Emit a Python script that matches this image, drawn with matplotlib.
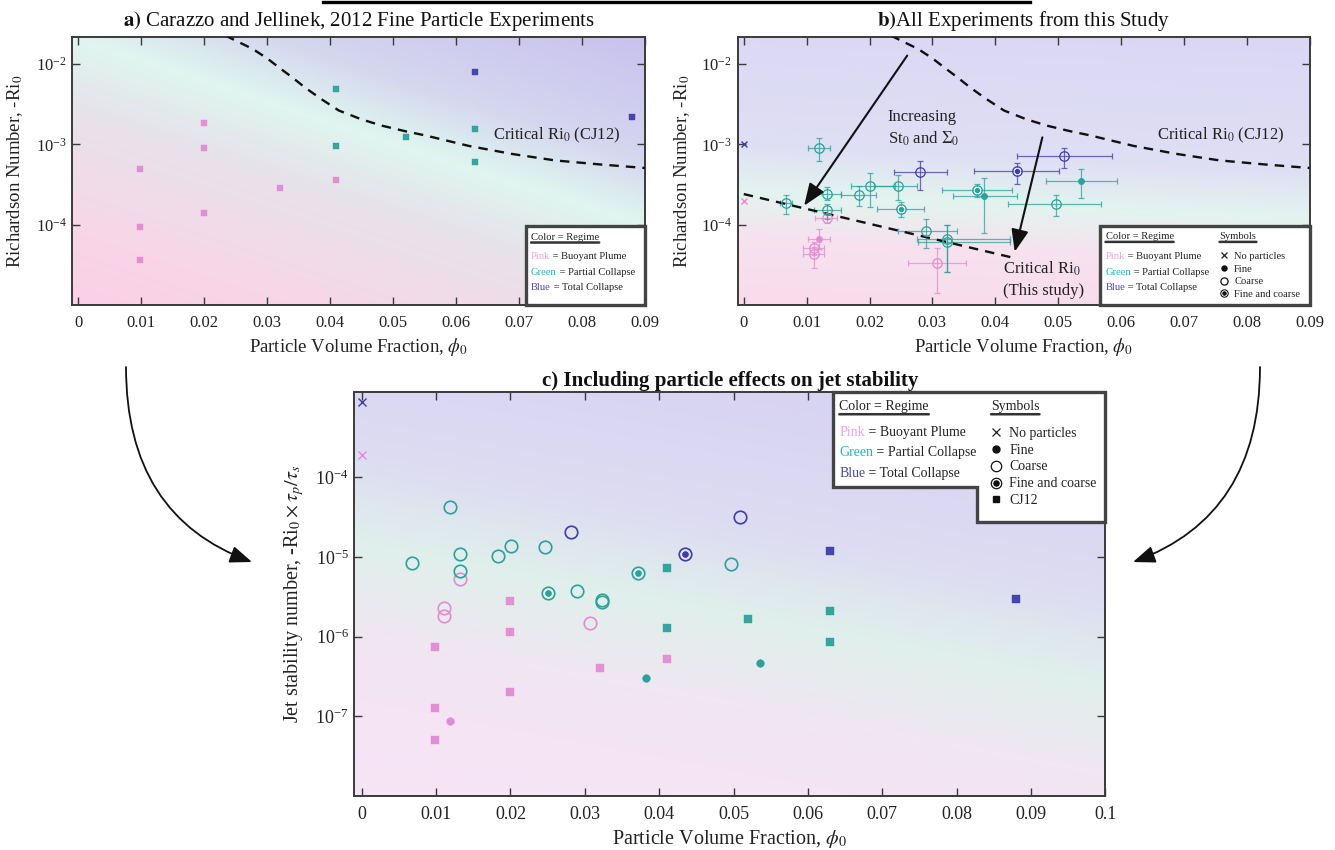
import numpy as np
import matplotlib
matplotlib.use("Agg")
import matplotlib.pyplot as plt
from matplotlib.colors import LinearSegmentedColormap
from matplotlib.patches import Polygon, FancyArrowPatch
from matplotlib.lines import Line2D
from matplotlib.legend_handler import HandlerTuple
from matplotlib.ticker import NullLocator

plt.rcParams["font.family"] = ["Liberation Serif", "DejaVu Serif"]
plt.rcParams["mathtext.fontset"] = "stix"
plt.rcParams["axes.unicode_minus"] = False

# ---------------- Carazzo & Jellinek (2012) fine-particle runs ----------------
cj_phi = [0.0098, 0.0098, 0.0098, 0.020, 0.020, 0.020, 0.032, 0.041,
          0.041, 0.041, 0.052, 0.063, 0.063,
          0.063, 0.088]
cj_ri = [4.9e-4, 9.3e-5, 3.6e-5, 1.86e-3, 8.9e-4, 1.41e-4, 2.83e-4, 3.6e-4,
         4.9e-3, 9.4e-4, 1.22e-3, 1.55e-3, 6.0e-4,
         7.9e-3, 2.2e-3]
cj_jet = [7.35e-7, 1.29e-7, 5.1e-8, 2.8e-6, 1.16e-6, 2.04e-7, 4.0e-7, 5.2e-7,
          7.3e-6, 1.29e-6, 1.67e-6, 2.12e-6, 8.5e-7,
          1.2e-5, 3.0e-6]
cj_regime = ["plume"] * 8 + ["partial"] * 5 + ["total"] * 2

# ---------------- experiments from this study ----------------
phi0 = [0.0111, 0.0111, 0.0119, 0.0132, 0.0307,
        0.0067, 0.0119, 0.0132, 0.0132, 0.0183, 0.0201, 0.0246, 0.0250,
        0.0290, 0.0323, 0.0323, 0.0371, 0.0382, 0.0496, 0.0536,
        0.0281, 0.0435, 0.0509]
phi0_lo = [0.0094, 0.0094, 0.0102, 0.0114, 0.0261,
           0.0058, 0.0102, 0.0111, 0.0111, 0.0155, 0.0170, 0.0207, 0.0212,
           0.0246, 0.0275, 0.0277, 0.0315, 0.0333, 0.0420, 0.0481,
           0.0239, 0.0366, 0.0434]
phi0_hi = [0.0128, 0.0128, 0.0137, 0.0149, 0.0354,
           0.0077, 0.0137, 0.0154, 0.0154, 0.0211, 0.0240, 0.0276, 0.0287,
           0.0339, 0.0424, 0.0424, 0.0427, 0.0434, 0.0569, 0.0594,
           0.0324, 0.0501, 0.0586]
ri0 = [5.15e-5, 4.27e-5, 6.7e-5, 1.21e-4, 3.3e-5,
       1.87e-4, 9.1e-4, 2.42e-4, 1.5e-4, 2.34e-4, 3.06e-4, 3.0e-4, 1.55e-4,
       8.4e-5, 6.6e-5, 6.1e-5, 2.73e-4, 2.26e-4, 1.82e-4, 3.47e-4,
       4.55e-4, 4.6e-4, 7.1e-4]
ri0_lo = [4.2e-5, 2.86e-5, 4.95e-5, 1.06e-4, 1.41e-5,
          1.37e-4, 6.2e-4, 2.0e-4, 1.19e-4, 1.7e-4, 1.65e-4, 2.0e-4, 1.24e-4,
          5.06e-5, 2.57e-5, 2.57e-5, 2.2e-4, 7.9e-5, 1.28e-4, 2.14e-4,
          2.73e-4, 3.2e-4, 5.07e-4]
ri0_hi = [6.1e-5, 5.3e-5, 8.9e-5, 1.37e-4, 5.06e-5,
          2.34e-4, 1.21e-3, 2.92e-4, 1.82e-4, 3.06e-4, 4.4e-4, 4.1e-4, 1.9e-4,
          1.19e-4, 9.8e-5, 9.8e-5, 3.2e-4, 3.77e-4, 2.34e-4, 4.9e-4,
          6.2e-4, 5.9e-4, 9.0e-4]
jet = [2.29e-6, 1.84e-6, 8.7e-8, 5.35e-6, 1.47e-6,
       8.4e-6, 4.2e-5, 1.09e-5, 6.7e-6, 1.04e-5, 1.36e-5, 1.34e-5, 3.56e-6,
       3.78e-6, 2.91e-6, 2.72e-6, 6.3e-6, 3.03e-7, 8.2e-6, 4.7e-7,
       2.06e-5, 1.08e-5, 3.2e-5]
regime = ["plume"] * 5 + ["partial"] * 15 + ["total"] * 3
grain = ["coarse", "coarse", "fine", "coarse", "coarse",
         "coarse", "coarse", "coarse", "coarse", "coarse", "coarse", "coarse", "both",
         "coarse", "coarse", "coarse", "both", "fine", "coarse", "fine",
         "coarse", "both", "coarse"]

# runs without particles
noparticle_phi = [0.0, 0.0]
noparticle_ri = [1.95e-4, 1.0e-3]
noparticle_jet = [1.89e-4, 8.8e-4]
noparticle_regime = ["plume", "total"]

# critical Richardson numbers
crit_cj12_phi = [0.0234, 0.0277, 0.0300, 0.0320, 0.0340, 0.0360, 0.0385, 0.0414,
                 0.0450, 0.0483, 0.0520, 0.0551, 0.0620, 0.0688, 0.0757, 0.0830, 0.0900]
crit_cj12_ri = [2.25e-2, 1.54e-2, 1.175e-2, 8.9e-3, 6.8e-3, 5.1e-3, 3.7e-3, 2.63e-3,
                2.04e-3, 1.70e-3, 1.45e-3, 1.29e-3, 9.55e-4, 7.6e-4, 6.3e-4, 5.6e-4, 5.07e-4]
crit_study_phi = [0.0, 0.0433]
crit_study_ri = [2.4e-4, 3.8e-5]

# axes ticks
xticks_ab = [0, 0.01, 0.02, 0.03, 0.04, 0.05, 0.06, 0.07, 0.08, 0.09]
xlabels_ab = ["0", "0.01", "0.02", "0.03", "0.04", "0.05", "0.06", "0.07", "0.08", "0.09"]
xticks_c = [0, 0.01, 0.02, 0.03, 0.04, 0.05, 0.06, 0.07, 0.08, 0.09, 0.1]
xlabels_c = ["0", "0.01", "0.02", "0.03", "0.04", "0.05", "0.06", "0.07", "0.08", "0.09", "0.1"]
yticks_ab = [1e-4, 1e-3, 1e-2]
yticks_c = [1e-7, 1e-6, 1e-5, 1e-4]

COL = {"plume": "#E38BD3", "partial": "#2AA29B", "total": "#3E3DAC"}
KEYCOL = {"plume": "#F2A2D3", "partial": "#1DB6C0", "total": "#4B48A8"}
EDGE = "#3a3a3a"

W, H = 1335, 850
fig = plt.figure(figsize=(W / 100, H / 100), dpi=100)


def frame(px):
    l, t, r, b = px
    return [l / W, 1 - b / H, (r - l) / W, (b - t) / H]


def backdrop(pos, stops, wx, wy):
    bg = fig.add_axes(pos)
    bg.set_axis_off()
    u = np.linspace(0, 1, 400)
    X, Y = np.meshgrid(u, u)
    s = (wx * X + wy * Y)
    smax = wx + wy
    cmap = LinearSegmentedColormap.from_list("bg", [(p / smax, c) for p, c in stops])
    bg.imshow(cmap(s / smax), origin="lower", extent=(0, 1, 0, 1), aspect="auto",
              interpolation="bilinear")
    bg.set_xlim(0, 1)
    bg.set_ylim(0, 1)
    ax = fig.add_axes(pos)
    ax.patch.set_alpha(0)
    return ax


def style(ax, xlim, ylim, xt, xl, yt, fs_tick, fs_lab):
    ax.set_yscale("log")
    ax.set_xlim(*xlim)
    ax.set_ylim(*ylim)
    ax.set_xticks(xt)
    ax.set_xticklabels(xl)
    ax.set_yticks(yt)
    ax.xaxis.set_minor_locator(NullLocator())
    ax.yaxis.set_minor_locator(NullLocator())
    ax.tick_params(axis="both", direction="in", top=True, right=True, length=6,
                   width=1.0, color=EDGE, labelsize=fs_tick, labelcolor="#222")
    ax.tick_params(axis="x", pad=7)
    ax.tick_params(axis="y", pad=4)
    for sp in ax.spines.values():
        sp.set_color(EDGE)
        sp.set_linewidth(1.4)
    ax.set_xlabel(r"Particle Volume Fraction, $\phi_0$", fontsize=fs_lab, color="#222")


def underline(ax, t):
    ax.annotate("", xy=(1.0, -0.08), xycoords=t, xytext=(0.0, -0.08), textcoords=t,
                arrowprops=dict(arrowstyle="-", lw=1.8, color="#333", shrinkA=0, shrinkB=0),
                zorder=7)


def color_key(ax, x0, y_head, y_rows, fs):
    t = ax.text(x0, y_head, "Color = Regime", transform=ax.transAxes, fontsize=fs,
                ha="left", va="center", color="#222", zorder=7)
    underline(ax, t)
    rows = [("Pink", " = Buoyant Plume", "plume"),
            ("Green", " = Partial Collapse", "partial"),
            ("Blue", " = Total Collapse", "total")]
    for (word, rest, r), y in zip(rows, y_rows):
        t1 = ax.text(x0, y, word, transform=ax.transAxes, fontsize=fs, ha="left",
                     va="center", color=KEYCOL[r], zorder=7)
        ax.annotate(rest, xy=(1, 0), xycoords=t1, ha="left", va="bottom", fontsize=fs,
                    color="#222", zorder=7)


def symbol_key(ax, x_head, y_head, anchor, fs, ms_open, ms_fine, with_cj, spacing):
    t = ax.text(x_head, y_head, "Symbols", transform=ax.transAxes, fontsize=fs,
                ha="left", va="center", color="#222", zorder=7)
    underline(ax, t)
    h_x = Line2D([], [], marker="x", ls="none", color="#222", ms=ms_open * 0.85, mew=0.9)
    h_f = Line2D([], [], marker="o", ls="none", color="#111", ms=ms_fine)
    h_c = Line2D([], [], marker="o", ls="none", mfc="none", mec="#111", ms=ms_open, mew=0.9)
    h_b = (Line2D([], [], marker="o", ls="none", mfc="none", mec="#111", ms=ms_open, mew=0.9),
           Line2D([], [], marker="o", ls="none", mfc="#111", mec="white", mew=0.5,
                  ms=ms_fine * 1.05))
    handles = [h_x, h_f, h_c, h_b]
    labels = ["No particles", "Fine", "Coarse", "Fine and coarse"]
    if with_cj:
        handles.append(Line2D([], [], marker="s", ls="none", color="#111", ms=ms_fine * 0.95))
        labels.append("CJ12")
    leg = ax.legend(handles, labels, loc="center left", bbox_to_anchor=anchor,
                    frameon=False, fontsize=fs, handlelength=1.0, handletextpad=0.45,
                    labelspacing=spacing, borderpad=0, borderaxespad=0,
                    handler_map={tuple: HandlerTuple(ndivide=1, pad=0)})
    leg.set_zorder(8)
    for txt in leg.get_texts():
        txt.set_color("#222")


def key_box(ax, verts):
    ax.add_patch(Polygon(verts, closed=True, transform=ax.transAxes, fc="white",
                         ec="#444", lw=2.4, zorder=6, clip_on=False))


def draw_study(ax, yvals, ms_open, ms_fine, mew):
    phi = np.array(phi0)
    y = np.array(yvals)
    reg = np.array(regime)
    gr = np.array(grain)
    for r, c in COL.items():
        m = (reg == r) & (gr == "coarse")
        ax.plot(phi[m], y[m], "o", ls="none", ms=ms_open, mfc="none", mec=c, mew=mew, zorder=4)
        m = (reg == r) & (gr == "fine")
        ax.plot(phi[m], y[m], "o", ls="none", ms=ms_fine, mfc=c, mec=c, mew=0.5, zorder=4)
        m = (reg == r) & (gr == "both")
        ax.plot(phi[m], y[m], "o", ls="none", ms=ms_open, mfc="none", mec=c, mew=mew, zorder=4)
        ax.plot(phi[m], y[m], "o", ls="none", ms=ms_fine, mfc=c, mec="white", mew=0.5, zorder=5)


def draw_cj(ax, yvals, ms):
    x = np.array(cj_phi)
    y = np.array(yvals)
    reg = np.array(cj_regime)
    for r, c in COL.items():
        m = reg == r
        ax.plot(x[m], y[m], "s", ls="none", ms=ms, mfc=c, mec=c, mew=0.3, alpha=0.95, zorder=4)


def draw_noparticles(ax, yvals, ms):
    for xv, yv, r in zip(noparticle_phi, yvals, noparticle_regime):
        ax.plot([xv], [yv], "x", ls="none", ms=ms, color=COL[r], mew=1.0, zorder=4)


# ===================== panel a =====================
ax_a = backdrop(frame((72.4, 37, 645, 305)),
                [(0.0, "#fccfe5"), (0.35, "#f6d8e8"), (0.75, "#e6e3ea"), (1.0, "#dff6ef"),
                 (1.25, "#d5d6ef"), (1.7, "#c8c2ee")], 0.7, 1.0)
style(ax_a, (-0.0009, 0.09), (1e-5, 10 ** -1.665), xticks_ab, xlabels_ab, yticks_ab, 12, 13.5)
ax_a.plot(crit_cj12_phi, crit_cj12_ri, color="#111", lw=1.7, ls=(0, (4, 3)), zorder=3)
draw_cj(ax_a, cj_ri, 4.8)
ax_a.text(0.0658, 1.29e-3, r"Critical Ri$_0$ (CJ12)", fontsize=12, ha="left", va="center",
          color="#222", zorder=5)
ax_a.set_ylabel(r"Richardson Number, -Ri$_0$", fontsize=13.5, color="#222")
ax_a.yaxis.set_label_coords(-0.083, 0.5)
ax_a.set_title(r"$\mathbf{a)}$ Carazzo and Jellinek, 2012 Fine Particle Experiments",
               fontsize=15, pad=8, color="#111")
key_box(ax_a, [(0.7922, 0.0), (1.0, 0.0), (1.0, 0.2948), (0.7922, 0.2948)])
color_key(ax_a, 0.801, 0.2526, [0.1802, 0.1205, 0.0646], 7.6)

# ===================== panel b =====================
ax_b = backdrop(frame((737.5, 37, 1309.5, 305)),
                [(0.0, "#fadbec"), (0.25, "#f6e2ee"), (0.42, "#e3f4ef"), (0.6, "#dfdff4"),
                 (1.1, "#dad7f4")], 0.1, 1.0)
style(ax_b, (-0.001, 0.09), (1e-5, 10 ** -1.665), xticks_ab, xlabels_ab, yticks_ab, 12, 13.5)
ax_b.plot(crit_cj12_phi, crit_cj12_ri, color="#111", lw=1.7, ls=(0, (4, 3)), zorder=3)
ax_b.plot(crit_study_phi, crit_study_ri, color="#111", lw=1.7, ls=(0, (4, 3)), zorder=3)

p = np.array(phi0)
rv = np.array(ri0)
reg_arr = np.array(regime)
for r, c in COL.items():
    m = reg_arr == r
    xe = [p[m] - np.array(phi0_lo)[m], np.array(phi0_hi)[m] - p[m]]
    ye = [rv[m] - np.array(ri0_lo)[m], np.array(ri0_hi)[m] - rv[m]]
    ax_b.errorbar(p[m], rv[m], xerr=xe, yerr=ye, fmt="none", ecolor=c, elinewidth=0.9,
                  capsize=2.2, capthick=0.9, alpha=0.75, zorder=2)
draw_study(ax_b, ri0, 6.8, 4.4, 0.9)
draw_noparticles(ax_b, noparticle_ri, 5)

ax_b.annotate("", xy=(0.0096, 1.72e-4), xytext=(0.026, 1.27e-2),
              arrowprops=dict(arrowstyle="-|>,head_length=0.9,head_width=0.35", lw=1.5,
                              color="#111", mutation_scale=15, shrinkA=0, shrinkB=0), zorder=6)
ax_b.annotate("", xy=(0.0431, 4.6e-5), xytext=(0.0475, 1.22e-3),
              arrowprops=dict(arrowstyle="-|>,head_length=0.9,head_width=0.35", lw=1.5,
                              color="#111", mutation_scale=15, shrinkA=0, shrinkB=0), zorder=6)
ax_b.text(0.0229, 2.19e-3, "Increasing", fontsize=12, ha="left", va="center", color="#222")
ax_b.text(0.0229, 1.17e-3, r"St$_0$ and $\Sigma_0$", fontsize=12, ha="left", va="center",
          color="#222")
ax_b.text(0.0657, 1.29e-3, r"Critical Ri$_0$ (CJ12)", fontsize=12, ha="left", va="center",
          color="#222", zorder=5)
ax_b.text(0.0412, 2.8e-5, r"Critical Ri$_0$", fontsize=12, ha="left", va="center",
          color="#222", zorder=5)
ax_b.text(0.0412, 1.5e-5, "(This study)", fontsize=12, ha="left", va="center",
          color="#222", zorder=5)
ax_b.set_ylabel(r"Richardson Number, -Ri$_0$", fontsize=13.5, color="#222")
ax_b.yaxis.set_label_coords(-0.08, 0.5)
ax_b.set_title(r"$\mathbf{b)}$All Experiments from this Study", fontsize=15, pad=8,
               color="#111")
key_box(ax_b, [(0.6337, 0.0), (1.0, 0.0), (1.0, 0.2948), (0.6337, 0.2948)])
color_key(ax_b, 0.6434, 0.2549, [0.1828, 0.122, 0.066], 7.6)
symbol_key(ax_b, 0.8428, 0.2549, (0.8415, 0.111), 7.6, 5.2, 3.6, False, 0.32)

# ===================== panel c =====================
ax_c = backdrop(frame((354.3, 392, 1105.3, 796)),
                [(0.0, "#f7e4f6"), (0.35, "#f3e5f3"), (0.62, "#e0f0eb"), (0.85, "#dddcf2"),
                 (1.35, "#d5d0f2")], 0.35, 1.0)
style(ax_c, (-0.001, 0.1), (1e-8, 10 ** -2.927), xticks_c, xlabels_c, yticks_c, 13, 14.5)
draw_cj(ax_c, cj_jet, 5.6)
draw_study(ax_c, jet, 9.0, 5.4, 1.2)
draw_noparticles(ax_c, noparticle_jet, 6.2)
ax_c.set_ylabel(r"Jet stability number, -Ri$_0\times\tau_p/\tau_s$", fontsize=14.5,
                color="#222")
ax_c.yaxis.set_label_coords(-0.064, 0.5)
ax_c.set_title("c) Including particle effects on jet stability", fontsize=15,
               fontweight="bold", pad=4, color="#111")
key_box(ax_c, [(0.6378, 1.0), (1.0, 1.0), (1.0, 0.679), (0.8292, 0.679), (0.8292, 0.7649),
               (0.6378, 0.7649)])
color_key(ax_c, 0.6458, 0.9636, [0.9002, 0.8498, 0.7978], 10)
symbol_key(ax_c, 0.8478, 0.9636, (0.8455, 0.8144), 10, 7.5, 5.0, True, 0.28)

# ===================== connecting arrows =====================
for start, end, ang in [((126, 367), (252, 562), -20), ((1260, 367), (1133, 562), 20)]:
    arr = FancyArrowPatch((start[0] / W, 1 - start[1] / H), (end[0] / W, 1 - end[1] / H),
                          transform=fig.transFigure,
                          connectionstyle=f"angle3,angleA=90,angleB={ang}",
                          arrowstyle="-|>,head_length=0.9,head_width=0.35", mutation_scale=15,
                          lw=1.3, color="#111", shrinkA=0, shrinkB=0)
    fig.add_artist(arr)

# header rule
fig.add_artist(Line2D([323 / W, 1030 / W], [1 - 1.5 / H, 1 - 1.5 / H], lw=2.4, color="black",
                      transform=fig.transFigure))

fig.savefig("out.png", dpi=100)
